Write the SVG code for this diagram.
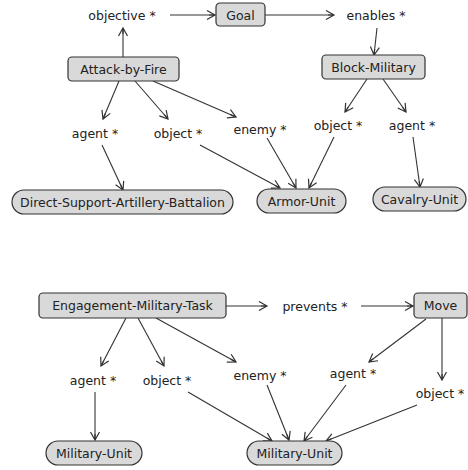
<svg xmlns="http://www.w3.org/2000/svg" width="468" height="470" viewBox="0 0 468 470">
<style>
text{font-family:"DejaVu Sans",Verdana,sans-serif;font-size:12.5px;fill:#222;text-anchor:middle;dominant-baseline:central}
.box{fill:#d9d9d9;stroke:#333;stroke-width:1.2}
.e line{stroke:#333;stroke-width:1.1;marker-end:url(#ah)}
</style>
<defs>
<marker id="ah" viewBox="-10 -6 12 12" markerWidth="12" markerHeight="12" refX="0" refY="0" orient="auto" markerUnits="userSpaceOnUse">
<path d="M-8,-4.5 L0,0 L-8,4.5 M-6,0 L0,0" fill="none" stroke="#333" stroke-width="1.2"/>
</marker>
</defs>
<rect width="468" height="470" fill="#fff"/>
<g class="e" id="connectors">
<line x1="123" y1="57" x2="123" y2="28"/>
<line x1="170" y1="15" x2="215" y2="15"/>
<line x1="265" y1="15" x2="334" y2="15"/>
<line x1="377" y1="28" x2="374" y2="55"/>
<line x1="119" y1="81" x2="103" y2="119"/>
<line x1="135" y1="81" x2="168" y2="119"/>
<line x1="153" y1="81" x2="236" y2="117"/>
<line x1="367" y1="79" x2="345" y2="112"/>
<line x1="383" y1="79" x2="406" y2="112"/>
<line x1="102" y1="145" x2="123" y2="190"/>
<line x1="200" y1="145" x2="280" y2="188"/>
<line x1="267" y1="138" x2="296" y2="188"/>
<line x1="334" y1="137" x2="309" y2="188"/>
<line x1="413" y1="137" x2="420" y2="187"/>
<line x1="226" y1="306" x2="267" y2="306"/>
<line x1="361" y1="306" x2="413" y2="306"/>
<line x1="126" y1="318" x2="101" y2="366"/>
<line x1="138" y1="318" x2="164" y2="366"/>
<line x1="156" y1="318" x2="236" y2="362"/>
<line x1="426" y1="319" x2="369" y2="362"/>
<line x1="442" y1="318" x2="442" y2="380"/>
<line x1="95" y1="392" x2="95" y2="440"/>
<line x1="188" y1="392" x2="272" y2="441"/>
<line x1="267" y1="385" x2="289" y2="440"/>
<line x1="346" y1="385" x2="304" y2="441"/>
<line x1="417" y1="405" x2="326" y2="441"/>
</g>
<g id="objective1"><text x="122" y="15">objective *</text></g>
<g id="goal"><rect class="box" x="216" y="3" width="49" height="23" rx="4"/><text x="240.5" y="15">Goal</text></g>
<g id="enables1"><text x="376" y="15">enables *</text></g>
<g id="attack-by-fire"><rect class="box" x="68" y="57" width="111" height="24" rx="4"/><text x="123.5" y="69">Attack-by-Fire</text></g>
<g id="block-military"><rect class="box" x="322" y="55" width="103" height="24" rx="4"/><text x="373.5" y="67">Block-Military</text></g>
<g id="agent1"><text x="95" y="133">agent *</text></g>
<g id="object1"><text x="178" y="133">object *</text></g>
<g id="enemy1"><text x="260" y="129">enemy *</text></g>
<g id="object2"><text x="338" y="125">object *</text></g>
<g id="agent2"><text x="412" y="125">agent *</text></g>
<g id="dsab"><rect class="box" x="12" y="190" width="221" height="24" rx="12"/><text x="122.5" y="202">Direct-Support-Artillery-Battalion</text></g>
<g id="armor-unit"><rect class="box" x="257" y="189" width="89" height="24" rx="12"/><text x="301.5" y="201">Armor-Unit</text></g>
<g id="cavalry-unit"><rect class="box" x="373" y="187" width="93" height="24" rx="12"/><text x="419.5" y="199">Cavalry-Unit</text></g>
<g id="emt"><rect class="box" x="39" y="293" width="187" height="25" rx="4"/><text x="132.5" y="305.5">Engagement-Military-Task</text></g>
<g id="prevents"><text x="315" y="306">prevents *</text></g>
<g id="move"><rect class="box" x="414" y="293" width="53" height="25" rx="4"/><text x="440.5" y="305.5">Move</text></g>
<g id="agent3"><text x="93" y="380">agent *</text></g>
<g id="object3"><text x="167" y="380">object *</text></g>
<g id="enemy3"><text x="260" y="375">enemy *</text></g>
<g id="agent4"><text x="353" y="373">agent *</text></g>
<g id="object4"><text x="440" y="393">object *</text></g>
<g id="military-unit1"><rect class="box" x="46" y="441" width="96" height="24" rx="12"/><text x="94" y="453">Military-Unit</text></g>
<g id="military-unit2"><rect class="box" x="247" y="441" width="95" height="24" rx="12"/><text x="294.5" y="453">Military-Unit</text></g>
</svg>
